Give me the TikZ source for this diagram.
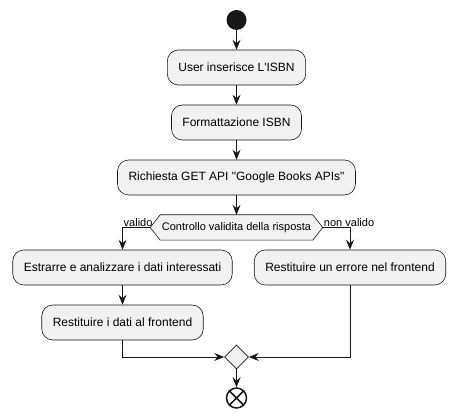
\documentclass[tikz,border=0pt]{standalone}
\usepackage{fontspec}
\setmainfont{Liberation Sans}[Ligatures=TeXOff]
\usetikzlibrary{arrows.meta,calc,shapes.geometric,backgrounds}
\definecolor{actfill}{HTML}{F1F1F1}
\definecolor{lncol}{HTML}{181818}
\begin{document}
\begin{tikzpicture}[x=1pt,y=-1pt,
  act/.style={draw=lncol, fill=actfill, rounded corners=11pt, minimum height=35pt, inner xsep=11pt, font=\fontsize{12}{14}\selectfont, line width=0.6pt},
  conn/.style={draw=lncol, line width=0.8pt, -{Stealth[length=10pt,width=8pt,inset=3.5pt]}},
  lbl/.style={font=\fontsize{11}{13}\selectfont, inner sep=1pt}]
\useasboundingbox (0,0) rectangle (457,419);
\node[circle, fill=lncol, minimum size=20pt, inner sep=0] (start) at (236.5,20) {};
\node[act] (a1) at (236.5,67.5) {User inserisce L'ISBN};
\node[act] (a2) at (236.5,122.5) {Formattazione ISBN};
\node[act] (a3) at (236.5,177.5) {Richiesta GET API "Google Books APIs"};
\node[inner xsep=1.5pt, minimum height=25pt, font=\fontsize{11}{13}\selectfont] (d) at (236.5,227.5) {Controllo validita della risposta};
\coordinate (dl) at ($(d.west)+(-10,0)$);
\coordinate (dr) at ($(d.east)+(10,0)$);
\begin{scope}[on background layer]
\draw[draw=lncol, fill=actfill, line width=0.6pt] (dl) -- (d.north west) -- (d.north east) -- (dr) -- (d.south east) -- (d.south west) -- cycle;
\end{scope}
\node[act] (a4) at (122.5,267.5) {Estrarre e analizzare i dati interessati};
\node[act] (a5) at (350,267.5) {Restituire un errore nel frontend};
\node[act] (a6) at (122.5,322.5) {Restituire i dati al frontend};
\node[diamond, draw=lncol, fill=actfill, line width=0.6pt, minimum size=24pt, inner sep=0] (m) at (236.5,357) {};
\node[circle, draw=lncol, line width=1.5pt, minimum size=20pt, inner sep=0] (end) at (236.5,398) {};
\draw[lncol, line width=1.5pt] (end.north west) -- (end.south east) (end.north east) -- (end.south west);
\draw[conn] (start) -- (a1);
\draw[conn] (a1) -- (a2);
\draw[conn] (a2) -- (a3);
\draw[conn] (a3) -- (d.north);
\draw[conn] (dl) -| (a4.north);
\node[lbl, anchor=south west] at (a4.north |- dl) {valido};
\draw[conn] (dr) -| (a5.north);
\node[lbl, anchor=south west] at (dr) {non valido};
\draw[conn] (a4) -- (a6);
\draw[conn] (a6.south) |- (m.west);
\draw[conn] (a5.south) |- (m.east);
\draw[conn] (m) -- (end);
\end{tikzpicture}
\end{document}
